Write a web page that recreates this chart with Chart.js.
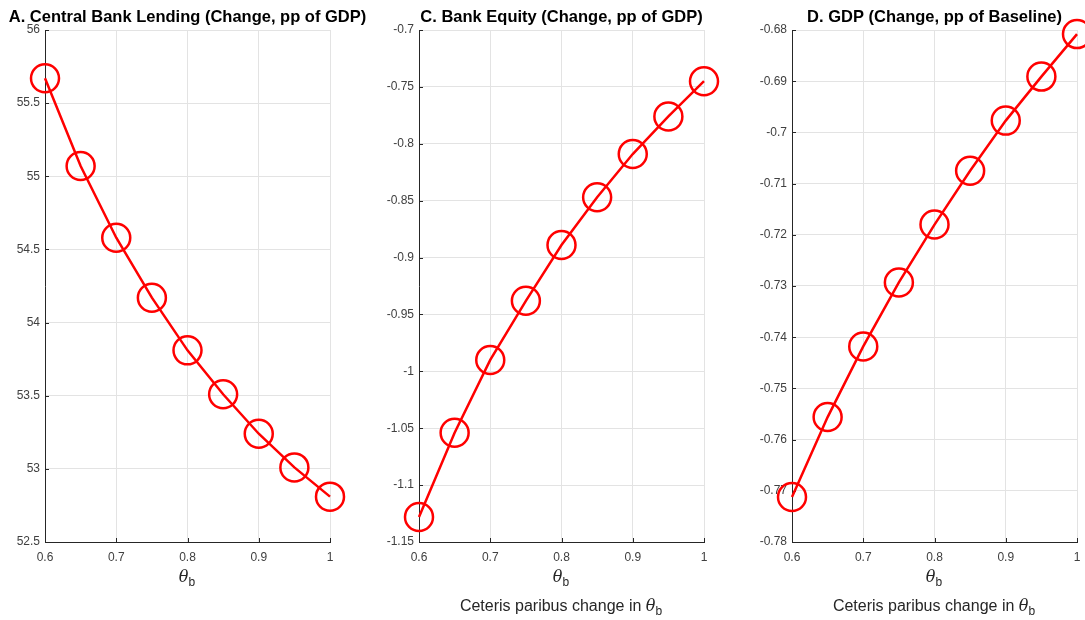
<!DOCTYPE html>
<html>
<head>
<meta charset="utf-8">
<script src="https://cdn.jsdelivr.net/npm/chart.js@4"></script>
<style>
  body { margin: 0; background: #fff; width: 1085px; height: 620px; position: relative; overflow: hidden;
         font-family: "Liberation Sans", Arial, sans-serif; }
  canvas { position: absolute; top: 0; }
  .xlab { position: absolute; color: #262626; font-size: 16px; text-align: center; white-space: nowrap; transform: translateX(-50%); }
  .xlab i { font-family: "DejaVu Serif", serif; font-size: 16px; }
  .xlab sub { font-size: 12px; }
</style>
</head>
<body>
<canvas id="chartA" style="left:0px" width="374" height="620"></canvas>
<canvas id="chartC" style="left:374px" width="373" height="620"></canvas>
<canvas id="chartD" style="left:747px" width="360" height="620"></canvas>

<div class="xlab" style="left:187px; top:567px"><i>θ</i><sub>b</sub></div>
<div class="xlab" style="left:561px; top:567px"><i>θ</i><sub>b</sub></div>
<div class="xlab" style="left:561px; top:596px">Ceteris paribus change in <i>θ</i><sub>b</sub></div>
<div class="xlab" style="left:934px; top:567px"><i>θ</i><sub>b</sub></div>
<div class="xlab" style="left:934px; top:596px">Ceteris paribus change in <i>θ</i><sub>b</sub></div>

<script>
// datos
const thetaB = [0.6, 0.65, 0.7, 0.75, 0.8, 0.85, 0.9, 0.95, 1];
const lendingVals = [55.67, 55.07, 54.58, 54.17, 53.81, 53.51, 53.24, 53.01, 52.81];
const equityVals = [-1.128, -1.054, -0.990, -0.938, -0.889, -0.847, -0.809, -0.776, -0.745];
const gdpVals = [-0.7712, -0.7556, -0.7418, -0.7293, -0.7180, -0.7075, -0.6977, -0.6891, -0.6808];

const xTicks = [0.6, 0.7, 0.8, 0.9, 1];
const lendingTicks = [52.5, 53, 53.5, 54, 54.5, 55, 55.5, 56];
const equityTicks = [-1.15, -1.1, -1.05, -1, -0.95, -0.9, -0.85, -0.8, -0.75, -0.7];
const gdpTicks = [-0.78, -0.77, -0.76, -0.75, -0.74, -0.73, -0.72, -0.71, -0.7, -0.69, -0.68];

const FONT = '"Liberation Sans", Arial, sans-serif';
const AXIS_COLOR = '#262626';
const GRID_COLOR = '#e3e3e3';

// titulo centrado sobre el area del grafico
const panelTitle = {
  id: 'panelTitle',
  afterDraw(chart, args, opts) {
    const ctx = chart.ctx;
    const area = chart.chartArea;
    ctx.save();
    ctx.font = 'bold 16.5px ' + FONT;
    ctx.fillStyle = '#000';
    ctx.textAlign = 'center';
    ctx.textBaseline = 'middle';
    ctx.fillText(opts.text, (area.left + area.right) / 2, 17);
    ctx.restore();
  }
};

// marcas de tick hacia adentro (estilo MATLAB)
const innerTicks = {
  id: 'innerTicks',
  beforeDatasetsDraw(chart) {
    const ctx = chart.ctx;
    const area = chart.chartArea;
    const xs = chart.scales.x, ys = chart.scales.y;
    ctx.save();
    ctx.strokeStyle = AXIS_COLOR;
    ctx.lineWidth = 1;
    ctx.beginPath();
    xs.ticks.forEach(t => {
      const px = Math.round(xs.getPixelForValue(t.value)) + 0.5;
      ctx.moveTo(px, area.bottom);
      ctx.lineTo(px, area.bottom - 4);
    });
    ys.ticks.forEach(t => {
      const py = Math.round(ys.getPixelForValue(t.value)) + 0.5;
      ctx.moveTo(area.left, py);
      ctx.lineTo(area.left + 4, py);
    });
    ctx.stroke();
    ctx.restore();
  }
};

function crearPanel(id, titulo, valores, yTicks, rightPad) {
  new Chart(document.getElementById(id), {
    type: 'line',
    data: {
      datasets: [{
        data: thetaB.map((x, i) => ({ x: x, y: valores[i] })),
        borderColor: '#ff0000',
        borderWidth: 2.5,
        pointStyle: 'circle',
        pointRadius: 14,
        pointBorderWidth: 2.5,
        pointBorderColor: '#ff0000',
        pointBackgroundColor: 'rgba(0,0,0,0)',
        tension: 0,
        clip: false
      }]
    },
    options: {
      responsive: false,
      animation: false,
      events: [],
      layout: { padding: { top: 30, right: rightPad, bottom: 0, left: 0 } },
      plugins: {
        legend: { display: false },
        tooltip: { enabled: false },
        panelTitle: { text: titulo }
      },
      scales: {
        x: {
          type: 'linear',
          min: 0.6,
          max: 1,
          afterBuildTicks: s => { s.ticks = xTicks.map(v => ({ value: v })); },
          afterFit: s => { s.height = 78; },
          grid: { color: GRID_COLOR, drawTicks: false },
          border: { display: true, color: AXIS_COLOR, width: 1 },
          ticks: {
            color: '#404040',
            font: { family: FONT, size: 12 },
            padding: 8,
            maxRotation: 0,
            callback: v => String(v)
          }
        },
        y: {
          type: 'linear',
          min: yTicks[0],
          max: yTicks[yTicks.length - 1],
          afterBuildTicks: s => { s.ticks = yTicks.map(v => ({ value: v })); },
          afterFit: s => { s.width = 45; },
          grid: { color: GRID_COLOR, drawTicks: false },
          border: { display: true, color: AXIS_COLOR, width: 1 },
          ticks: {
            color: '#404040',
            font: { family: FONT, size: 12 },
            padding: 5,
            callback: v => String(v)
          }
        }
      }
    },
    plugins: [panelTitle, innerTicks]
  });
}

crearPanel('chartA', 'A. Central Bank Lending (Change, pp of GDP)', lendingVals, lendingTicks, 44);
crearPanel('chartC', 'C. Bank Equity (Change, pp of GDP)', equityVals, equityTicks, 43);
crearPanel('chartD', 'D. GDP (Change, pp of Baseline)', gdpVals, gdpTicks, 30);
</script>
</body>
</html>
